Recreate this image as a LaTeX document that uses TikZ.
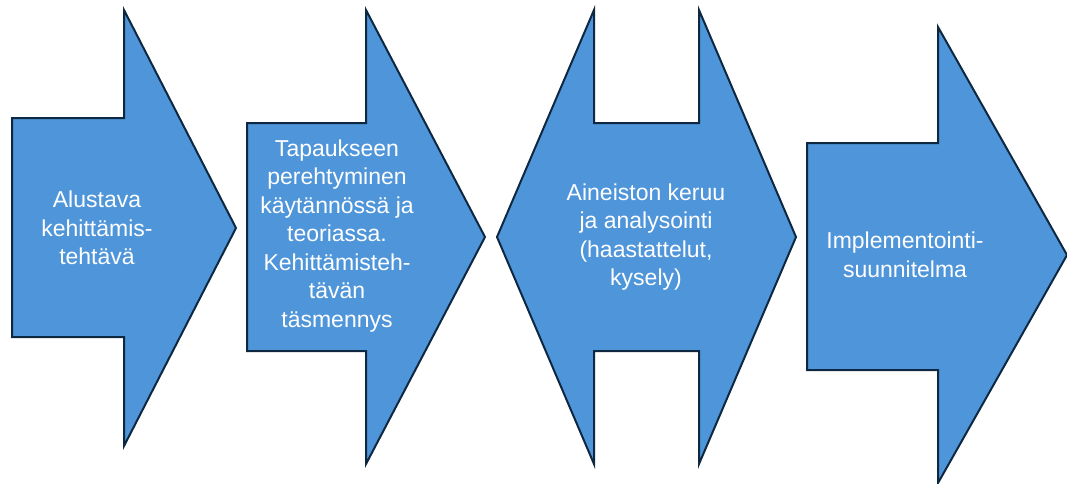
\documentclass[tikz,border=0pt]{standalone}
\usepackage{fontspec}
\setmainfont{Liberation Sans}
\definecolor{stepfill}{HTML}{4F95DA}
\definecolor{stepline}{HTML}{0E2841}
\begin{document}
\begin{tikzpicture}[x=1pt,y=-1pt,
  stepshape/.style={fill=stepfill,draw=stepline,line width=2pt,line join=miter},
  steptext/.style={text=white,align=center,inner sep=0pt,
    font=\fontsize{23}{28.5}\selectfont}]
  % canvas
  \fill[white] (0,0) rectangle (1067,483);
  \useasboundingbox (0,0) rectangle (1067,483);

  % step 1: right arrow
  \draw[stepshape] (12,118) -- (124,118) -- (124,10) -- (236,228)
    -- (124,446) -- (124,337) -- (12,337) -- cycle;
  % step 2: right arrow
  \draw[stepshape] (247,123) -- (366,123) -- (366,10) -- (485,237)
    -- (366,464) -- (366,351) -- (247,351) -- cycle;
  % step 3: double-headed arrow
  \draw[stepshape] (497,237) -- (594,10) -- (594,123) -- (699,123) -- (699,10)
    -- (796,237) -- (699,464) -- (699,351) -- (594,351) -- (594,464) -- cycle;
  % step 4: right arrow
  \draw[stepshape] (807,143) -- (938,143) -- (938,27) -- (1067,255)
    -- (938,483) -- (938,370) -- (807,370) -- cycle;

  % labels
  \node[steptext] (s1) at (97,228) {Alustava\\kehittämis-\\tehtävä};
  \node[steptext] (s2) at (337,236) {Tapaukseen\\perehtyminen\\käytännössä ja\\teoriassa.\\Kehittämisteh-\\tävän\\täsmennys};
  \node[steptext] (s3) at (646,237) {Aineiston keruu\\ja analysointi\\(haastattelut,\\kysely)};
  \node[steptext] (s4) at (905,255) {Implementointi-\\suunnitelma};
\end{tikzpicture}
\end{document}
